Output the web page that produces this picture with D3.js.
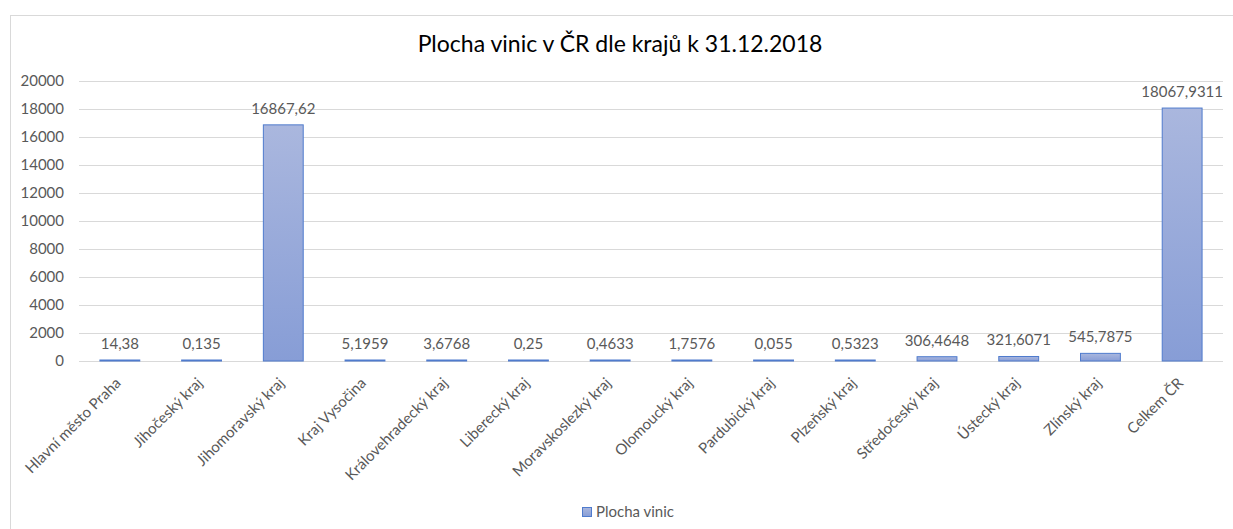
<!DOCTYPE html>
<html>
<head>
<meta charset="utf-8">
<script src="https://cdn.jsdelivr.net/npm/d3@7"></script>
<style>
  body { margin: 0; background: #fff; }
  svg { display: block; font-family: Lato, "Open Sans", sans-serif; }
</style>
</head>
<body>
<svg width="1233" height="529"></svg>
<script>
// data
const categories = ['Hlavní město Praha', 'Jihočeský kraj', 'Jihomoravský kraj', 'Kraj Vysočina',
  'Královehradecký kraj', 'Liberecký kraj', 'Moravskoslezký kraj', 'Olomoucký kraj',
  'Pardubický kraj', 'Plzeňský kraj', 'Středočeský kraj', 'Ústecký kraj', 'Zlínský kraj', 'Celkem ČR']
const values = [14.38, 0.135, 16867.62, 5.1959, 3.6768, 0.25, 0.4633, 1.7576, 0.055, 0.5323,
  306.4648, 321.6071, 545.7875, 18067.9311]
const valueLabels = ['14,38', '0,135', '16867,62', '5,1959', '3,6768', '0,25', '0,4633', '1,7576',
  '0,055', '0,5323', '306,4648', '321,6071', '545,7875', '18067,9311']
const yTicks = [0, 2000, 4000, 6000, 8000, 10000, 12000, 14000, 16000, 18000, 20000]
const seriesName = 'Plocha vinic'
const title = 'Plocha vinic v ČR dle krajů k 31.12.2018'

const svg = d3.select('svg')
const margin = {top: 81, left: 79, right: 10, bottom: 168}
const width = +svg.attr('width')
const height = +svg.attr('height')
const plotW = width - margin.left - margin.right
const plotH = height - margin.top - margin.bottom
const fs = 15

// chart frame (right and bottom edges fall outside the picture)
svg.append('rect')
  .attr('x', 10.5).attr('y', 15.5)
  .attr('width', 1240).attr('height', 540)
  .attr('fill', 'none').attr('stroke', '#d9d9d9')

const defs = svg.append('defs')
const grad = defs.append('linearGradient')
  .attr('id', 'barFill')
  .attr('x1', 0).attr('y1', 0).attr('x2', 0).attr('y2', 1)
grad.append('stop').attr('offset', '0%').attr('stop-color', '#aab7de')
grad.append('stop').attr('offset', '100%').attr('stop-color', '#879dd6')

svg.append('text')
  .attr('x', 620).attr('y', 52)
  .attr('text-anchor', 'middle')
  .attr('font-size', 23)
  .attr('fill', '#000')
  .text(title)

const x = d3.scaleBand().domain(categories).range([0, plotW]).paddingInner(0.5).paddingOuter(0.25)
const y = d3.scaleLinear().domain([0, 20000]).range([plotH, 0])

const g = svg.append('g').attr('transform', `translate(${margin.left}, ${margin.top})`)

const yAxis = g.append('g')
  .call(d3.axisLeft(y).tickValues(yTicks).tickSize(-plotW).tickPadding(15).tickFormat(d3.format('d')))
yAxis.select('.domain').remove()
yAxis.selectAll('line').attr('stroke', '#d9d9d9')
yAxis.selectAll('text').attr('fill', '#595959').attr('font-size', fs).attr('font-family', 'Lato')

g.selectAll('.bar')
  .data(values)
  .enter()
  .append('rect')
  .attr('class', 'bar')
  .attr('x', (d, i) => x(categories[i]) + 0.5)
  .attr('width', x.bandwidth() - 1)
  .attr('y', d => Math.min(y(d), plotH - 1))
  .attr('height', d => Math.max(plotH - y(d), 1))
  .attr('fill', 'url(#barFill)')
  .attr('stroke', '#4f7bcd')
  .attr('stroke-width', 1)

g.selectAll('.val')
  .data(values)
  .enter()
  .append('text')
  .attr('class', 'val')
  .attr('x', (d, i) => x(categories[i]) + x.bandwidth() / 2)
  .attr('y', d => Math.min(y(d), plotH - 1) - 11)
  .attr('text-anchor', 'middle')
  .attr('font-size', fs)
  .attr('fill', '#595959')
  .text((d, i) => valueLabels[i])

g.selectAll('.cat')
  .data(categories)
  .enter()
  .append('text')
  .attr('class', 'cat')
  .attr('transform', d => `translate(${x(d) + x.bandwidth() / 2 + 2}, ${plotH + 23}) rotate(-45)`)
  .attr('text-anchor', 'end')
  .attr('font-size', fs)
  .attr('fill', '#595959')
  .text(d => d)

// legend
const lg = svg.append('g').attr('transform', 'translate(582, 507)')
lg.append('rect')
  .attr('x', 0.5).attr('y', 0.5).attr('width', 9).attr('height', 9)
  .attr('fill', 'url(#barFill)').attr('stroke', '#4f7bcd')
lg.append('text')
  .attr('x', 14).attr('y', 10)
  .attr('font-size', fs)
  .attr('fill', '#595959')
  .text(seriesName)
</script>
</body>
</html>
